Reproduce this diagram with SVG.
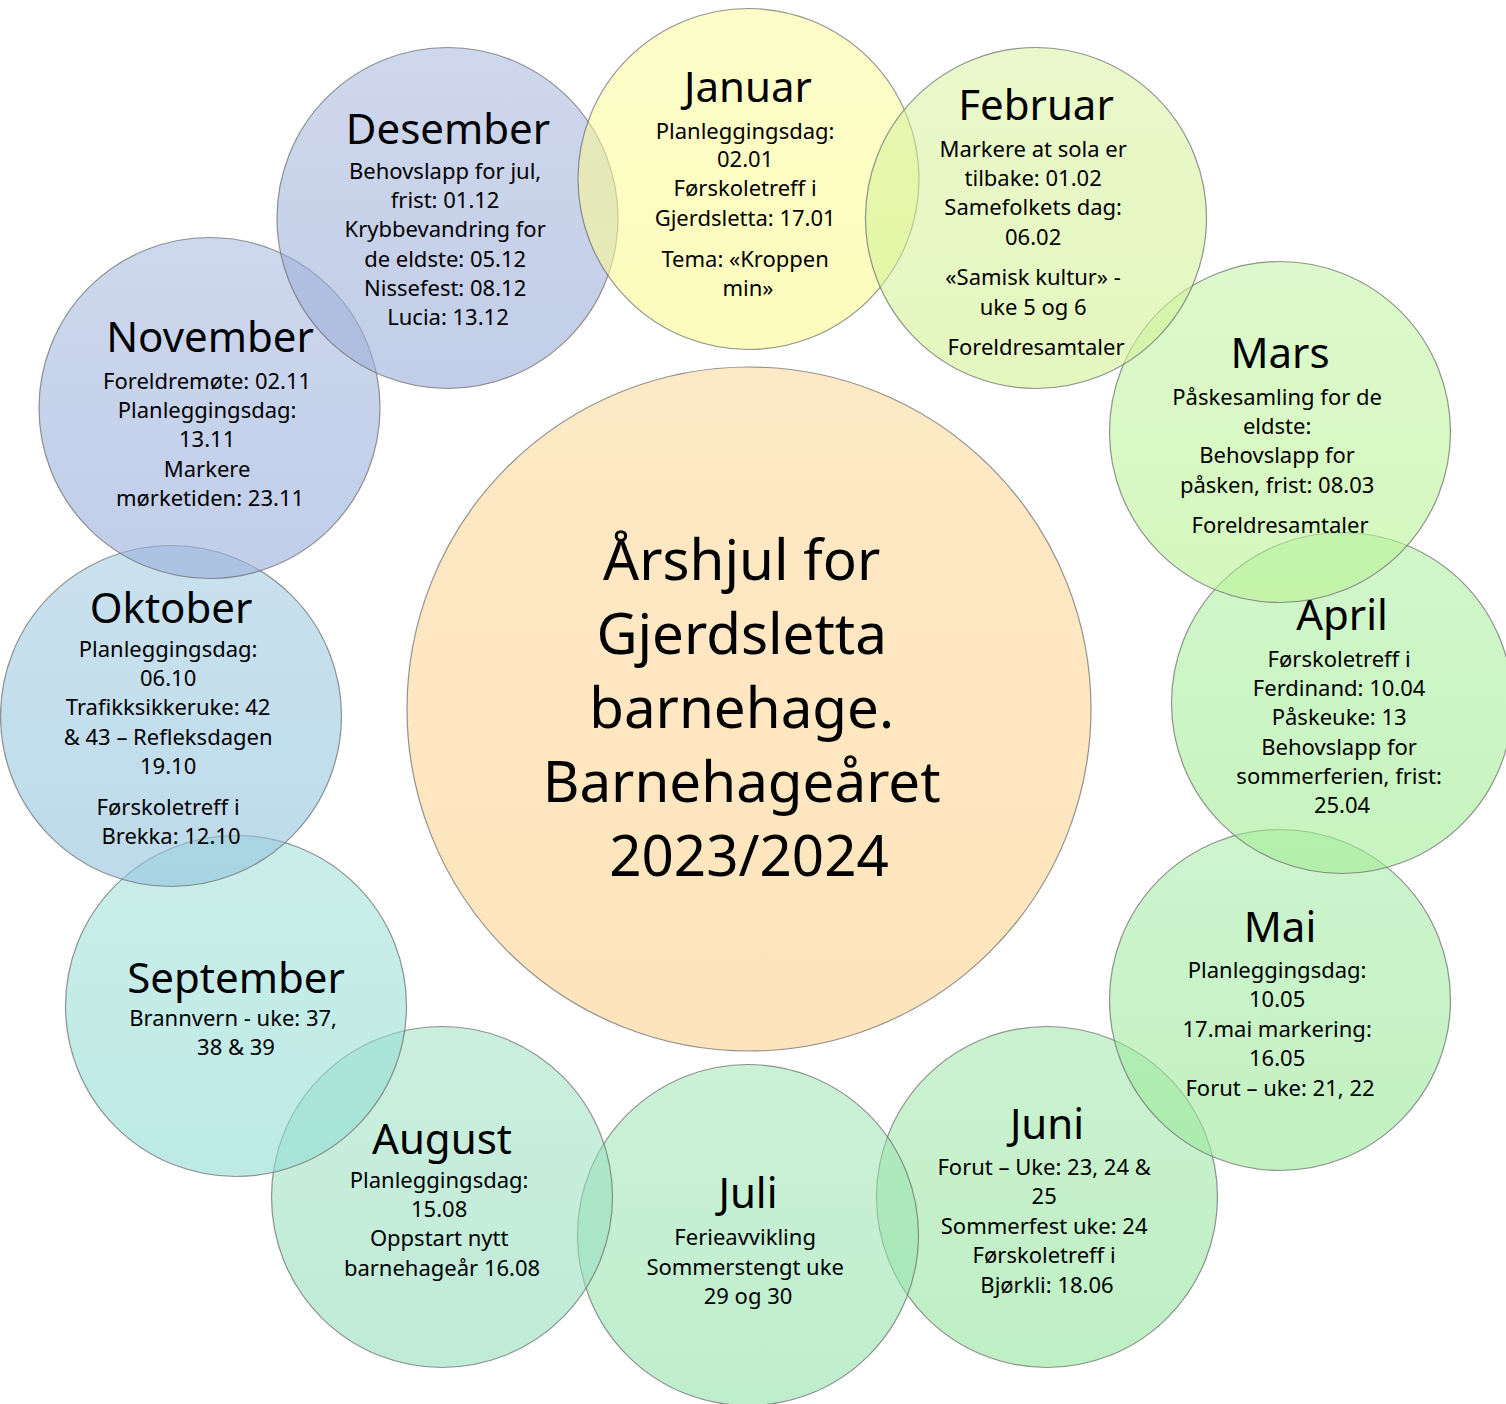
<svg xmlns="http://www.w3.org/2000/svg" width="1506" height="1404" viewBox="0 0 1506 1404">
<style>
  .c { stroke: #6f6f6f; stroke-opacity: 0.75; stroke-width: 1.2; }
  text { font-family: "Noto Sans", "Open Sans", sans-serif; fill: #000; text-anchor: middle; }
  .t { font-size: 42px; }
  .b { font-size: 22px; }
  .m { font-size: 56.5px; }
</style>
<defs>
  <linearGradient id="gCenter" x1="0" y1="0" x2="0" y2="1"><stop offset="0" stop-color="#fee9c6"/><stop offset="1" stop-color="#fde4bc"/></linearGradient>
  <linearGradient id="gJan" x1="0" y1="0" x2="0" y2="1"><stop offset="0" stop-color="#fbfa94" stop-opacity="0.5"/><stop offset="1" stop-color="#fbfa94" stop-opacity="0.62"/></linearGradient>
  <linearGradient id="gFeb" x1="0" y1="0" x2="0" y2="1"><stop offset="0" stop-color="#d3f297" stop-opacity="0.5"/><stop offset="1" stop-color="#d3f297" stop-opacity="0.62"/></linearGradient>
  <linearGradient id="gMar" x1="0" y1="0" x2="0" y2="1"><stop offset="0" stop-color="#baf397" stop-opacity="0.5"/><stop offset="1" stop-color="#baf397" stop-opacity="0.62"/></linearGradient>
  <linearGradient id="gApr" x1="0" y1="0" x2="0" y2="1"><stop offset="0" stop-color="#a4ed97" stop-opacity="0.5"/><stop offset="1" stop-color="#a4ed97" stop-opacity="0.62"/></linearGradient>
  <linearGradient id="gMai" x1="0" y1="0" x2="0" y2="1"><stop offset="0" stop-color="#9de99d" stop-opacity="0.5"/><stop offset="1" stop-color="#9de99d" stop-opacity="0.62"/></linearGradient>
  <linearGradient id="gJun" x1="0" y1="0" x2="0" y2="1"><stop offset="0" stop-color="#97e5a0" stop-opacity="0.5"/><stop offset="1" stop-color="#97e5a0" stop-opacity="0.62"/></linearGradient>
  <linearGradient id="gJul" x1="0" y1="0" x2="0" y2="1"><stop offset="0" stop-color="#97e3af" stop-opacity="0.5"/><stop offset="1" stop-color="#97e3af" stop-opacity="0.62"/></linearGradient>
  <linearGradient id="gAug" x1="0" y1="0" x2="0" y2="1"><stop offset="0" stop-color="#97dfbe" stop-opacity="0.5"/><stop offset="1" stop-color="#97dfbe" stop-opacity="0.62"/></linearGradient>
  <linearGradient id="gSep" x1="0" y1="0" x2="0" y2="1"><stop offset="0" stop-color="#95ddd5" stop-opacity="0.5"/><stop offset="1" stop-color="#95ddd5" stop-opacity="0.62"/></linearGradient>
  <linearGradient id="gOkt" x1="0" y1="0" x2="0" y2="1"><stop offset="0" stop-color="#95c4de" stop-opacity="0.5"/><stop offset="1" stop-color="#95c4de" stop-opacity="0.62"/></linearGradient>
  <linearGradient id="gNov" x1="0" y1="0" x2="0" y2="1"><stop offset="0" stop-color="#9bb0dc" stop-opacity="0.5"/><stop offset="1" stop-color="#9bb0dc" stop-opacity="0.62"/></linearGradient>
  <linearGradient id="gDes" x1="0" y1="0" x2="0" y2="1"><stop offset="0" stop-color="#9dafd9" stop-opacity="0.5"/><stop offset="1" stop-color="#9dafd9" stop-opacity="0.62"/></linearGradient>
</defs>
<rect width="1506" height="1404" fill="#ffffff"/>
<g id="connectors"/>

<g id="node-center">
  <circle class="c" cx="749" cy="709" r="342" fill="url(#gCenter)"/>
  <text class="m">
    <tspan x="749" y="580">Årshjul for</tspan>
    <tspan x="749" y="654">Gjerdsletta</tspan>
    <tspan x="749" y="728">barnehage.</tspan>
    <tspan x="749" y="802">Barnehageåret</tspan>
    <tspan x="749" y="876">2023/2024</tspan>
  </text>
</g>

<g id="node-juni">
  <circle class="c" cx="1047" cy="1197" r="170.5" fill="url(#gJun)"/>
  <text class="t" x="1047" y="1139">Juni</text>
  <text class="b">
    <tspan x="1047" y="1175">Forut – Uke: 23, 24 &amp;</tspan>
    <tspan x="1047" y="1204">25</tspan>
    <tspan x="1047" y="1234">Sommerfest uke: 24</tspan>
    <tspan x="1047" y="1263">Førskoletreff i</tspan>
    <tspan x="1047" y="1293">Bjørkli: 18.06</tspan>
  </text>
</g>

<g id="node-mai">
  <circle class="c" cx="1280" cy="1000" r="170.5" fill="url(#gMai)"/>
  <text class="t" x="1280" y="942">Mai</text>
  <text class="b">
    <tspan x="1280" y="978">Planleggingsdag:</tspan>
    <tspan x="1280" y="1007">10.05</tspan>
    <tspan x="1280" y="1037">17.mai markering:</tspan>
    <tspan x="1280" y="1066">16.05</tspan>
    <tspan x="1280" y="1096">Forut – uke: 21, 22</tspan>
  </text>
</g>

<g id="node-juli">
  <circle class="c" cx="748" cy="1235" r="170.5" fill="url(#gJul)"/>
  <text class="t" x="748" y="1208">Juli</text>
  <text class="b">
    <tspan x="748" y="1245">Ferieavvikling</tspan>
    <tspan x="748" y="1275">Sommerstengt uke</tspan>
    <tspan x="748" y="1304">29 og 30</tspan>
  </text>
</g>

<g id="node-august">
  <circle class="c" cx="442" cy="1197" r="170.5" fill="url(#gAug)"/>
  <text class="t" x="442" y="1154">August</text>
  <text class="b">
    <tspan x="442" y="1188">Planleggingsdag:</tspan>
    <tspan x="442" y="1217">15.08</tspan>
    <tspan x="442" y="1246">Oppstart nytt</tspan>
    <tspan x="442" y="1276">barnehageår 16.08</tspan>
  </text>
</g>

<g id="node-september">
  <circle class="c" cx="236" cy="1006" r="170.5" fill="url(#gSep)"/>
  <text class="t" x="236" y="993">September</text>
  <text class="b">
    <tspan x="236" y="1026">Brannvern - uke: 37,</tspan>
    <tspan x="236" y="1055">38 &amp; 39</tspan>
  </text>
</g>

<g id="node-oktober">
  <circle class="c" cx="171" cy="716" r="170.5" fill="url(#gOkt)"/>
  <text class="t" x="171" y="623">Oktober</text>
  <text class="b">
    <tspan x="171" y="657">Planleggingsdag:</tspan>
    <tspan x="171" y="686">06.10</tspan>
    <tspan x="171" y="715">Trafikksikkeruke: 42</tspan>
    <tspan x="171" y="745">&amp; 43 – Refleksdagen</tspan>
    <tspan x="171" y="774">19.10</tspan>
    <tspan x="171" y="815">Førskoletreff i</tspan>
    <tspan x="171" y="844">Brekka: 12.10</tspan>
  </text>
</g>

<g id="node-november">
  <circle class="c" cx="209.5" cy="408" r="170.5" fill="url(#gNov)"/>
  <text class="t" x="210" y="352">November</text>
  <text class="b">
    <tspan x="210" y="389">Foreldremøte: 02.11</tspan>
    <tspan x="210" y="418">Planleggingsdag:</tspan>
    <tspan x="210" y="447">13.11</tspan>
    <tspan x="210" y="477">Markere</tspan>
    <tspan x="210" y="506">mørketiden: 23.11</tspan>
  </text>
</g>

<g id="node-desember">
  <circle class="c" cx="447.5" cy="218" r="170.5" fill="url(#gDes)"/>
  <text class="t" x="448" y="144">Desember</text>
  <text class="b">
    <tspan x="448" y="179">Behovslapp for jul,</tspan>
    <tspan x="448" y="208">frist: 01.12</tspan>
    <tspan x="448" y="237">Krybbevandring for</tspan>
    <tspan x="448" y="267">de eldste: 05.12</tspan>
    <tspan x="448" y="296">Nissefest: 08.12</tspan>
    <tspan x="448" y="325">Lucia: 13.12</tspan>
  </text>
</g>

<g id="node-januar">
  <circle class="c" cx="748.5" cy="179" r="170.5" fill="url(#gJan)"/>
  <text class="t" x="748" y="102">Januar</text>
  <text class="b">
    <tspan x="748" y="139">Planleggingsdag:</tspan>
    <tspan x="748" y="167">02.01</tspan>
    <tspan x="748" y="196">Førskoletreff i</tspan>
    <tspan x="748" y="226">Gjerdsletta: 17.01</tspan>
    <tspan x="748" y="267">Tema: «Kroppen</tspan>
    <tspan x="748" y="296">min»</tspan>
  </text>
</g>

<g id="node-april">
  <circle class="c" cx="1342" cy="703" r="170.5" fill="url(#gApr)"/>
  <text class="t" x="1342" y="630">April</text>
  <text class="b">
    <tspan x="1342" y="667">Førskoletreff i</tspan>
    <tspan x="1342" y="696">Ferdinand: 10.04</tspan>
    <tspan x="1342" y="725">Påskeuke: 13</tspan>
    <tspan x="1342" y="755">Behovslapp for</tspan>
    <tspan x="1342" y="784">sommerferien, frist:</tspan>
    <tspan x="1342" y="813">25.04</tspan>
  </text>
</g>

<g id="node-mars">
  <circle class="c" cx="1280" cy="432" r="170.5" fill="url(#gMar)"/>
  <text class="t" x="1280" y="368">Mars</text>
  <text class="b">
    <tspan x="1280" y="405">Påskesamling for de</tspan>
    <tspan x="1280" y="434">eldste:</tspan>
    <tspan x="1280" y="463">Behovslapp for</tspan>
    <tspan x="1280" y="493">påsken, frist: 08.03</tspan>
    <tspan x="1280" y="533">Foreldresamtaler</tspan>
  </text>
</g>

<g id="node-februar">
  <circle class="c" cx="1036" cy="218" r="170.5" fill="url(#gFeb)"/>
  <text class="t" x="1036" y="120">Februar</text>
  <text class="b">
    <tspan x="1036" y="157">Markere at sola er</tspan>
    <tspan x="1036" y="186">tilbake: 01.02</tspan>
    <tspan x="1036" y="215">Samefolkets dag:</tspan>
    <tspan x="1036" y="245">06.02</tspan>
    <tspan x="1036" y="285">«Samisk kultur» -</tspan>
    <tspan x="1036" y="315">uke 5 og 6</tspan>
    <tspan x="1036" y="355">Foreldresamtaler</tspan>
  </text>
</g>
</svg>
